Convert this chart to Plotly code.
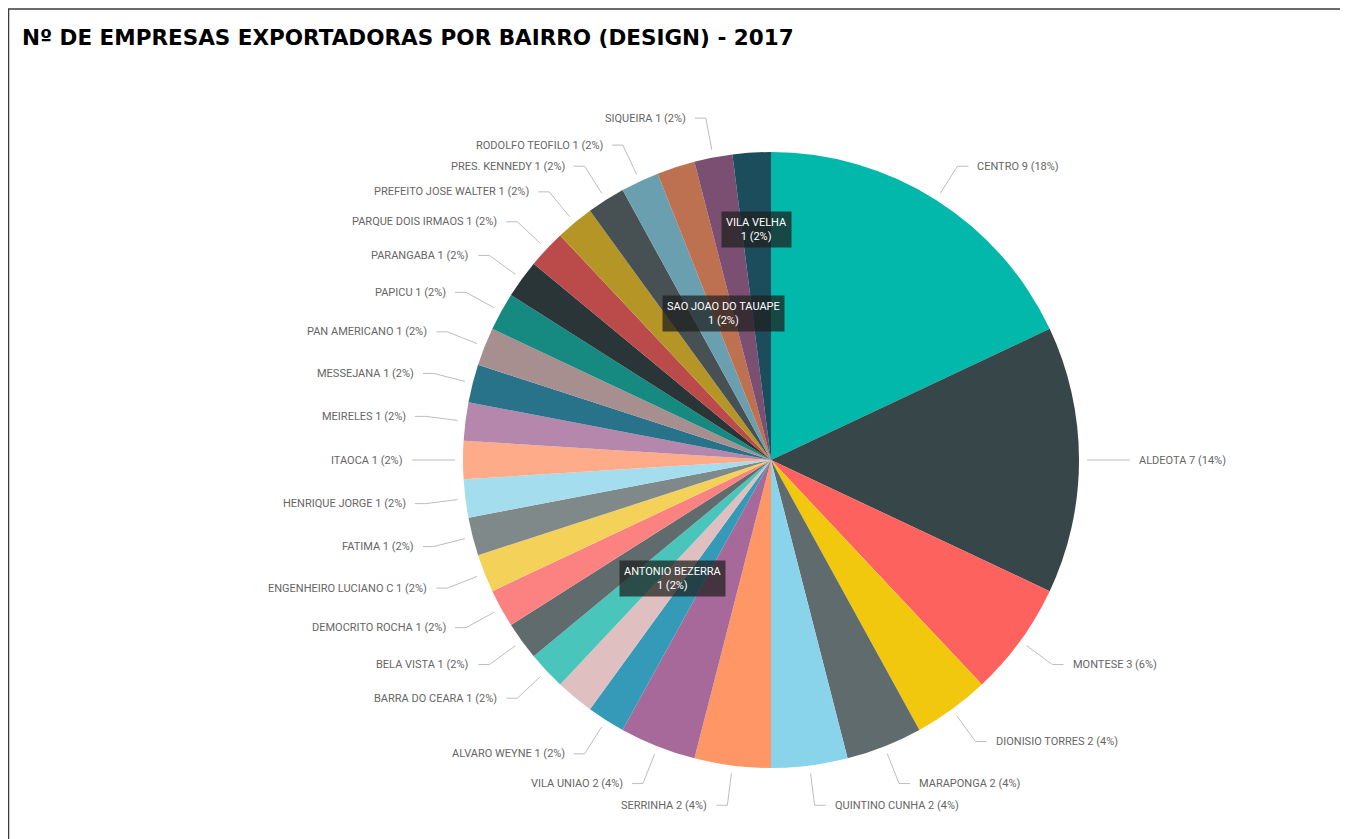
import math
import plotly.graph_objects as go

# ---------------- data ----------------
bairros = [
    "CENTRO", "ALDEOTA", "MONTESE", "DIONISIO TORRES", "MARAPONGA",
    "QUINTINO CUNHA", "SERRINHA", "VILA UNIAO", "ALVARO WEYNE", "ANTONIO BEZERRA",
    "BARRA DO CEARA", "BELA VISTA", "DEMOCRITO ROCHA", "ENGENHEIRO LUCIANO C", "FATIMA",
    "HENRIQUE JORGE", "ITAOCA", "MEIRELES", "MESSEJANA", "PAN AMERICANO",
    "PAPICU", "PARANGABA", "PARQUE DOIS IRMAOS", "PREFEITO JOSE WALTER", "PRES. KENNEDY",
    "RODOLFO TEOFILO", "SAO JOAO DO TAUAPE", "SIQUEIRA", "VILA VELHA",
]
empresas = [9, 7, 3, 2, 2, 2, 2, 2, 1, 1,
            1, 1, 1, 1, 1, 1, 1, 1, 1, 1,
            1, 1, 1, 1, 1, 1, 1, 1, 1]
cores = [
    "#01B8AA", "#374649", "#FD625E", "#F2C80F", "#5F6B6D",
    "#8AD4EB", "#FE9666", "#A66999", "#3599B8", "#DFBFBF",
    "#4AC5BB", "#5F6B6D", "#FB8281", "#F4D25A", "#7F898A",
    "#A4DDEE", "#FDAB89", "#B687AC", "#28738A", "#A78F8F",
    "#168980", "#293537", "#BB4A4A", "#B59525", "#475052",
    "#6A9FB0", "#BD7150", "#7B4F71", "#1B4D5C",
]
# slices whose label is shown as a dark box inside the pie (fraction of radius)
caixas = {"ANTONIO BEZERRA": 0.5, "SAO JOAO DO TAUAPE": 0.5, "VILA VELHA": 0.75}
titulo = "Nº DE EMPRESAS EXPORTADORAS POR BAIRRO (DESIGN) - 2017"

# ---------------- geometry (page pixels) ----------------
OFF = 8                      # default page body margin
W, H = 1348 - OFF, 839 - OFF  # figure size
CX, CY, R = 771, 460, 308


def px(x):
    return (x - OFF) / W


def py(y):
    return 1 - (y - OFF) / H


total = sum(empresas)

fig = go.Figure()
fig.add_trace(go.Pie(
    labels=bairros,
    values=empresas,
    sort=False,
    direction="clockwise",
    rotation=0,
    marker=dict(colors=cores, line=dict(color="white", width=0)),
    textinfo="none",
    hoverinfo="label+value+percent",
    showlegend=False,
    domain=dict(x=[px(CX - R), px(CX + R)], y=[py(CY + R), py(CY - R)]),
))

shapes = []
annotations = []

cum = 0
for nome, v in zip(bairros, empresas):
    frac_mid = (cum + v / 2) / total
    cum += v
    th = 2 * math.pi * frac_mid
    s, c = math.sin(th), math.cos(th)
    pct = round(100 * v / total)
    if nome in caixas:
        f = caixas[nome]
        bx, by = CX + f * R * s, CY - f * R * c
        annotations.append(dict(
            x=px(bx), y=py(by), xref="paper", yref="paper",
            text=f"{nome}<br>{v} ({pct}%)", showarrow=False,
            font=dict(family="Roboto", size=11, color="white"),
            bgcolor="rgba(30,30,30,0.72)", borderpad=4,
            xanchor="center", yanchor="middle", align="center",
        ))
        continue
    r1, r2 = R + 8, R + 40
    x1, y1 = CX + r1 * s, CY - r1 * c
    x2, y2 = CX + r2 * s, CY - r2 * c
    d = 1 if s >= 0 else -1
    x3 = x2 + 11 * d
    shapes.append(dict(
        type="path", xref="paper", yref="paper",
        path=f"M {px(x1)},{py(y1)} L {px(x2)},{py(y2)} L {px(x3)},{py(y2)}",
        line=dict(color="#bdbdbd", width=1),
    ))
    annotations.append(dict(
        x=px(x3 + 7 * d), y=py(y2), xref="paper", yref="paper",
        text=f"{nome} {v} ({pct}%)", showarrow=False,
        font=dict(family="Roboto", size=11, color="#666666"),
        xanchor="left" if d > 0 else "right", yanchor="middle",
    ))

# title
annotations.append(dict(
    x=px(20), y=py(38), xref="paper", yref="paper",
    text=f"<b>{titulo}</b>", showarrow=False,
    font=dict(family="DejaVu Sans", size=21.5, color="#000000"),
    xanchor="left", yanchor="middle",
))

# frame
shapes.append(dict(
    type="rect", xref="paper", yref="paper",
    x0=px(8.5), x1=px(1346), y0=py(880), y1=py(9),
    line=dict(color="#3a3a3a", width=1.5), fillcolor="rgba(0,0,0,0)",
))

fig.update_layout(
    width=W, height=H,
    margin=dict(l=0, r=0, t=0, b=0),
    paper_bgcolor="white",
    plot_bgcolor="white",
    shapes=shapes,
    annotations=annotations,
)

fig.write_html("out.html")
